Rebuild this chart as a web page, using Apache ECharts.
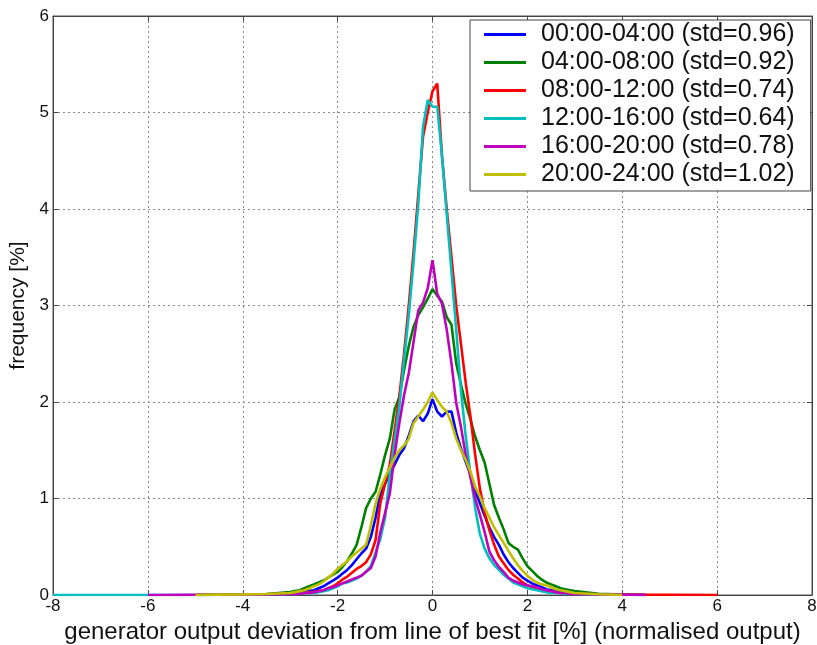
<!DOCTYPE html>
<html>
<head>
<meta charset="utf-8">
<script src="https://cdn.jsdelivr.net/npm/echarts@6/dist/echarts.min.js"></script>
<style>
html,body{margin:0;padding:0;background:#fff;}
#c{width:817px;height:645px;}
</style>
</head>
<body>
<div id="c"></div>
<script>
// x positions (deviation, %)
var xs = [-8,-7,-6,-5,-4.5,-4,-3.5,
  -3.0,-2.9,-2.8,-2.7,-2.6,-2.5,-2.4,-2.3,-2.2,-2.1,-2.0,-1.9,-1.8,-1.7,-1.6,-1.5,-1.4,-1.3,-1.2,-1.1,-1.0,-0.9,-0.8,-0.7,-0.6,-0.5,-0.4,-0.3,-0.2,-0.1,
  0.0,0.1,0.2,0.3,0.4,0.5,0.6,0.7,0.8,0.9,1.0,1.1,1.2,1.3,1.4,1.5,1.6,1.7,1.8,1.9,2.0,2.1,2.2,2.3,2.4,2.5,2.6,2.7,2.8,2.9,3.0,
  3.5,4,4.5,5,6,7,8];

var seriesNames = ["00:00-04:00 (std=0.96)","04:00-08:00 (std=0.92)","08:00-12:00 (std=0.74)","12:00-16:00 (std=0.64)","16:00-20:00 (std=0.78)","20:00-24:00 (std=1.02)"];

var blue = [null,null,null,null,0,0.003,0.005,
  0.01,0.01,0.02,0.03,0.04,0.05,0.07,0.09,0.12,0.15,0.18,0.22,0.26,0.31,0.37,0.43,0.48,0.60,0.80,1.05,1.15,1.25,1.35,1.45,1.52,1.65,1.80,1.86,1.80,1.88,
  2.03,1.90,1.85,1.90,1.90,1.68,1.52,1.38,1.25,1.08,0.95,0.82,0.70,0.60,0.52,0.42,0.34,0.28,0.23,0.18,0.15,0.12,0.10,0.08,0.06,0.05,0.04,0.03,0.02,0.02,0.01,
  0.005,0.003,0,null,null,null,null];

var green = [null,null,null,0,0.003,0.005,0.01,
  0.03,0.04,0.05,0.07,0.09,0.11,0.13,0.15,0.18,0.21,0.24,0.29,0.35,0.43,0.52,0.70,0.90,1.00,1.07,1.25,1.45,1.62,1.92,2.05,2.33,2.58,2.78,2.90,2.98,3.07,
  3.17,3.10,3.04,2.88,2.80,2.40,2.18,1.98,1.82,1.64,1.50,1.37,1.15,0.93,0.80,0.68,0.54,0.50,0.47,0.38,0.30,0.25,0.20,0.16,0.13,0.11,0.09,0.07,0.06,0.05,0.04,
  0.012,0.005,0,null,null,null,null];

var red = [null,null,null,0,0.003,0.004,0.006,
  0.01,0.01,0.02,0.02,0.03,0.03,0.04,0.05,0.07,0.09,0.12,0.16,0.19,0.23,0.27,0.30,0.34,0.42,0.57,0.95,1.15,1.35,1.70,2.05,2.50,3.00,3.55,4.15,4.75,5.00,
  5.22,5.30,4.55,4.00,3.50,3.00,2.60,2.20,1.85,1.45,1.10,0.85,0.67,0.52,0.40,0.33,0.26,0.21,0.17,0.13,0.10,0.08,0.06,0.05,0.04,0.03,0.03,0.02,0.02,0.01,0.01,
  0.006,0.004,0.003,0.002,0,null,null];

var cyan = [0,0,0,0,0.002,0.003,0.005,
  0.01,0.01,0.01,0.02,0.02,0.02,0.03,0.04,0.05,0.07,0.09,0.12,0.13,0.15,0.17,0.20,0.24,0.30,0.44,0.58,0.80,1.25,1.60,1.95,2.43,2.90,3.45,4.05,4.85,5.13,
  5.06,5.06,4.55,3.95,3.35,2.75,2.12,1.65,1.25,0.90,0.63,0.48,0.38,0.31,0.26,0.21,0.17,0.13,0.11,0.09,0.07,0.06,0.05,0.04,0.03,0.02,0.02,0.02,0.01,0.01,0.01,
  0.004,0,null,null,null,null,null];

var magenta = [null,null,0,0.002,0.003,0.004,0.006,
  0.01,0.01,0.01,0.02,0.02,0.03,0.04,0.05,0.07,0.08,0.10,0.12,0.14,0.16,0.18,0.20,0.24,0.28,0.40,0.65,0.85,1.05,1.45,1.78,2.07,2.30,2.62,2.95,3.03,3.18,
  3.47,3.12,3.02,2.75,2.40,1.99,1.74,1.45,1.22,1.00,0.83,0.65,0.45,0.36,0.29,0.24,0.18,0.15,0.13,0.11,0.10,0.09,0.08,0.06,0.05,0.04,0.03,0.02,0.02,0.01,0.01,
  0.006,0.003,0,null,null,null,null];

var yellow = [null,null,null,0,0.004,0.006,0.01,
  0.02,0.03,0.04,0.05,0.07,0.09,0.11,0.14,0.18,0.22,0.27,0.31,0.35,0.40,0.44,0.48,0.52,0.72,0.95,1.10,1.22,1.32,1.42,1.50,1.55,1.62,1.78,1.85,1.92,2.00,
  2.10,2.02,1.95,1.90,1.78,1.62,1.50,1.40,1.28,1.12,1.02,0.90,0.80,0.70,0.62,0.54,0.46,0.38,0.31,0.25,0.20,0.16,0.13,0.11,0.10,0.08,0.06,0.05,0.04,0.03,0.02,
  0.008,0,null,null,null,null,null];

var xTicks = {min:-8, max:8, interval:2};
var yTicks = {min:0, max:6, interval:1};

var allY = [blue, green, red, cyan, magenta, yellow];
var colors = ['#0000ff','#008000','#ff0000','#00bfbf','#bf00bf','#bfbf00'];

function pairs(ys){
  var out = [];
  for (var i=0;i<xs.length;i++){ if (ys[i]!==null) out.push([xs[i], ys[i]]); }
  return out;
}

var font = "'Liberation Sans', Arial, Helvetica, sans-serif";
var chart = echarts.init(document.getElementById('c'), null, {renderer:'canvas'});
var series = allY.map(function(ys, i){
  return {
    name: seriesNames[i], type:'line', xAxisIndex:0, yAxisIndex:0,
    data: pairs(ys), showSymbol:false, symbol:'none', smooth:false,
    lineStyle:{width:2.6, color:colors[i]}, itemStyle:{color:colors[i]},
    animation:false, z: 3+i
  };
});

chart.setOption({
  animation:false,
  backgroundColor:'#ffffff',
  grid:{left:53, right:5, top:16, bottom:50, show:true, borderColor:'#555', borderWidth:1,
        containLabel:false, outerBoundsMode:'none'},
  legend:{
    data: seriesNames, orient:'vertical', left:470, top:20,
    backgroundColor:'#ffffff', borderColor:'#444', borderWidth:1,
    padding:[2,16,4,14], itemGap:3, itemWidth:42, itemHeight:3, icon:'rect',
    textStyle:{fontFamily:font, fontSize:25, color:'#111', lineHeight:25, padding:[0,0,0,10]},
    z: 20
  },
  xAxis:[{
    type:'value', min:xTicks.min, max:xTicks.max, interval:xTicks.interval, position:'bottom',
    name:'generator output deviation from line of best fit [%] (normalised output)',
    nameLocation:'middle', nameGap:24,
    nameTextStyle:{fontFamily:font, fontSize:24, color:'#111'},
    axisLine:{show:true, onZero:false, lineStyle:{color:'#444', width:1}},
    axisTick:{show:true, inside:true, length:5, lineStyle:{color:'#444'}},
    axisLabel:{fontFamily:font, fontSize:17, color:'#111', margin:3},
    splitLine:{show:true, lineStyle:{color:'#8a8a8a', type:[2,3], width:1}}
  },{
    type:'value', min:xTicks.min, max:xTicks.max, interval:xTicks.interval, position:'top',
    axisLine:{show:true, onZero:false, lineStyle:{color:'#444', width:1}},
    axisTick:{show:true, inside:true, length:5, lineStyle:{color:'#444'}},
    axisLabel:{show:false}, splitLine:{show:false}
  }],
  yAxis:[{
    type:'value', min:yTicks.min, max:yTicks.max, interval:yTicks.interval, position:'left',
    name:'frequency [%]', nameLocation:'middle', nameGap:24, nameRotate:90,
    nameTextStyle:{fontFamily:font, fontSize:21, color:'#111'},
    axisLine:{show:true, onZero:false, lineStyle:{color:'#444', width:1}},
    axisTick:{show:true, inside:true, length:5, lineStyle:{color:'#444'}},
    axisLabel:{fontFamily:font, fontSize:17, color:'#111', margin:4},
    splitLine:{show:true, lineStyle:{color:'#8a8a8a', type:[2,3], width:1}}
  },{
    type:'value', min:yTicks.min, max:yTicks.max, interval:yTicks.interval, position:'right',
    axisLine:{show:true, onZero:false, lineStyle:{color:'#444', width:1}},
    axisTick:{show:true, inside:true, length:5, lineStyle:{color:'#444'}},
    axisLabel:{show:false}, splitLine:{show:false}
  }],
  series: series
});
</script>
</body>
</html>
